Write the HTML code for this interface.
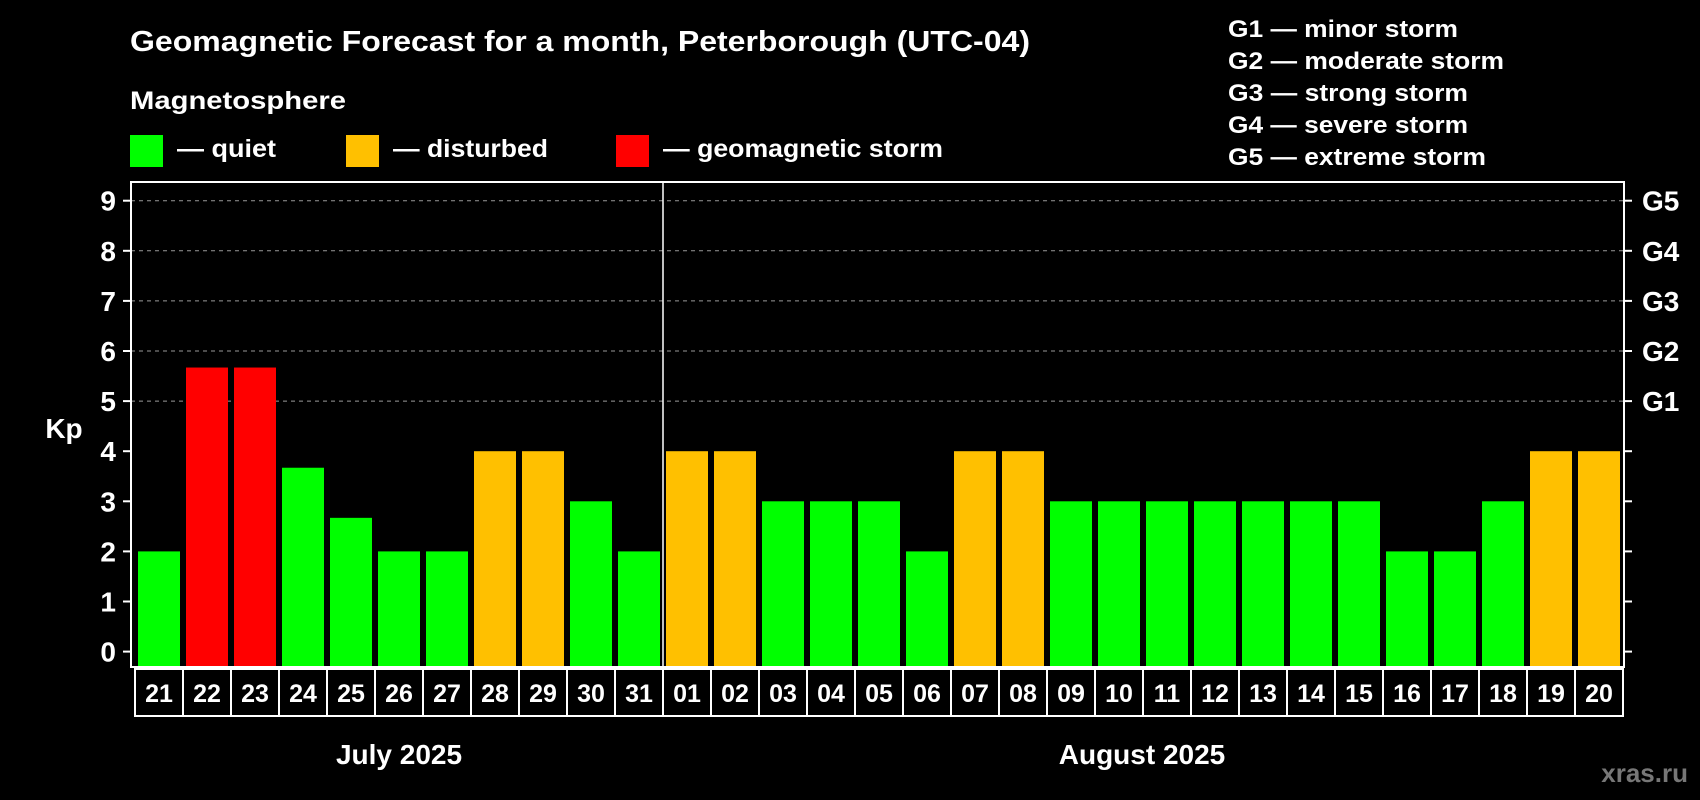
<!DOCTYPE html>
<html><head><meta charset="utf-8"><style>
html,body{margin:0;padding:0;background:#000;}
svg{display:block;font-family:"Liberation Sans",Arial,sans-serif;font-weight:bold;}
</style></head><body>
<svg id="chart" width="1700" height="800" viewBox="0 0 1700 800">
<rect width="1700" height="800" fill="#000"/>
<text x="130" y="51" fill="#fff" font-size="29" textLength="900" lengthAdjust="spacingAndGlyphs">Geomagnetic Forecast for a month, Peterborough (UTC-04)</text>
<text x="130" y="109" fill="#fff" font-size="25" textLength="216" lengthAdjust="spacingAndGlyphs">Magnetosphere</text>
<g>
<rect x="130" y="135" width="33" height="32" fill="#00ff00"/>
<text x="177" y="157" fill="#fff" font-size="25" textLength="99" lengthAdjust="spacingAndGlyphs">— quiet</text></g>
<g>
<rect x="346" y="135" width="33" height="32" fill="#ffc000"/>
<text x="393" y="157" fill="#fff" font-size="25" textLength="155" lengthAdjust="spacingAndGlyphs">— disturbed</text></g>
<g>
<rect x="616" y="135" width="33" height="32" fill="#ff0000"/>
<text x="663" y="157" fill="#fff" font-size="25" textLength="280" lengthAdjust="spacingAndGlyphs">— geomagnetic storm</text></g>
<g fill="#fff" font-size="24">
<text x="1228" y="37" textLength="230" lengthAdjust="spacingAndGlyphs">G1 — minor storm</text>
<text x="1228" y="69" textLength="276" lengthAdjust="spacingAndGlyphs">G2 — moderate storm</text>
<text x="1228" y="101" textLength="240" lengthAdjust="spacingAndGlyphs">G3 — strong storm</text>
<text x="1228" y="133" textLength="240" lengthAdjust="spacingAndGlyphs">G4 — severe storm</text>
<text x="1228" y="165" textLength="258" lengthAdjust="spacingAndGlyphs">G5 — extreme storm</text>
</g>
<text x="64" y="438" fill="#fff" font-size="28" text-anchor="middle">Kp</text>
<g id="plot"></g>
<text x="399" y="764" fill="#fff" font-size="28" text-anchor="middle">July 2025</text>
<text x="1142" y="764" fill="#fff" font-size="28" text-anchor="middle">August 2025</text>
<text x="1688" y="782" fill="#777" font-size="26" text-anchor="end">xras.ru</text>
</svg>
<script>
const days = ["21","22","23","24","25","26","27","28","29","30","31","01","02","03","04","05","06","07","08","09","10","11","12","13","14","15","16","17","18","19","20"];
const kpValues = [2,5.67,5.67,3.67,2.67,2,2,4,4,3,2,4,4,3,3,3,2,4,4,3,3,3,3,3,3,3,2,2,3,4,4];
const yTicks = [0,1,2,3,4,5,6,7,8,9];
const gLabels = ["G1","G2","G3","G4","G5"];
const gLevels = [5,6,7,8,9];
const monthSplitIndex = 11;

const NS = "http://www.w3.org/2000/svg";
const plot = document.getElementById("plot");
const L = 131, R = 1624, T = 182, B = 667;
const slotL = 135, slotW = 48;
function y(v){ return 651.6 - v * 50.1; }
function x(i){ return slotL + i * slotW; }
function color(v){ return v >= 5 ? "#ff0000" : (v >= 4 ? "#ffc000" : "#00ff00"); }
function mk(tag, attrs){ const e = document.createElementNS(NS, tag); for (const k in attrs) e.setAttribute(k, attrs[k]); plot.appendChild(e); return e; }

gLevels.forEach((lv, i) => {
  const g = mk("line", {x1: L, x2: R, y1: y(lv), y2: y(lv), stroke: "#999", "stroke-dasharray": "4,4", "stroke-width": 1});
  
  
});
yTicks.forEach(v => {
  const t = mk("line", {x1: L - 8, x2: L, y1: y(v), y2: y(v), stroke: "#fff", "stroke-width": 2});
  
  
  const t2 = mk("line", {x1: R, x2: R + 8, y1: y(v), y2: y(v), stroke: "#fff", "stroke-width": 2});
  
  
  const lb = mk("text", {x: 116, y: y(v) + 10, fill: "#fff", "font-size": 28, "text-anchor": "end"});
  lb.textContent = v;
  
  
});
gLabels.forEach((g, i) => {
  const lb = mk("text", {x: 1642, y: y(gLevels[i]) + 10, fill: "#fff", "font-size": 28});
  lb.textContent = g;
  
  
});
kpValues.forEach((v, i) => {
  const b = mk("rect", {x: x(i) + 3, y: y(v), width: 42, height: B - y(v), fill: color(v)});
  
  
});
const fr = mk("rect", {x: L, y: T, width: R - L, height: B - T, fill: "none", stroke: "#fff", "stroke-width": 2});


const sep = mk("line", {x1: x(monthSplitIndex), x2: x(monthSplitIndex), y1: T, y2: B, stroke: "#fff", "stroke-width": 1.5});


days.forEach((d, i) => {
  const r = mk("rect", {x: x(i), y: 669, width: slotW, height: 47, fill: "none", stroke: "#fff", "stroke-width": 2});
  
  
  const t = mk("text", {x: x(i) + slotW / 2, y: 702, fill: "#fff", "font-size": 25, "text-anchor": "middle"});
  t.textContent = d;
  
  
});
</script>
</body></html>
